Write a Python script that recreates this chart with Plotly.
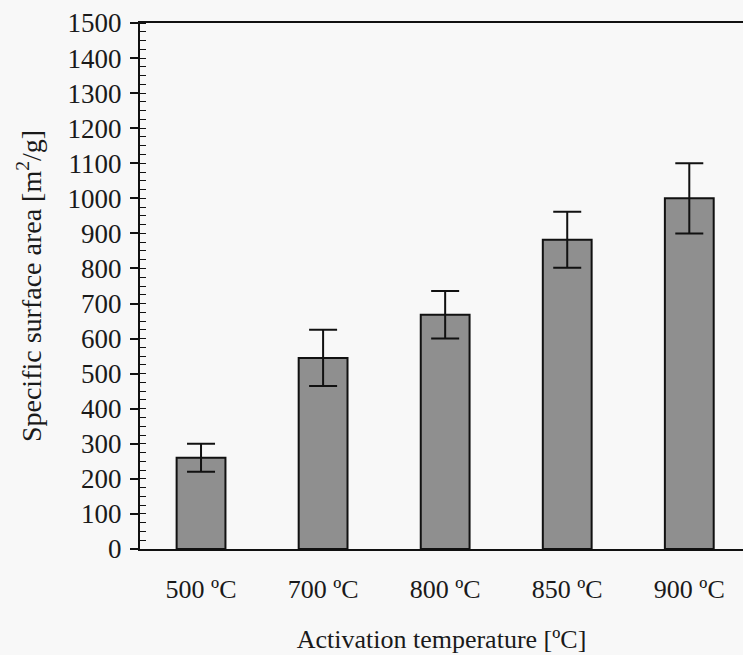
import plotly.graph_objects as go

categories = ["500 ºC", "700 ºC", "800 ºC", "850 ºC", "900 ºC"]
surface_area = [260, 545, 668, 882, 1000]
error = [40, 80, 68, 80, 100]
y_ticks = list(range(0, 1501, 100))

FONT = "Liberation Serif"

fig = go.Figure()
fig.add_trace(go.Bar(
    x=categories, y=surface_area, width=0.4,
    marker=dict(color="#8f8f8f", line=dict(color="#111111", width=2)),
    error_y=dict(type="data", array=error, visible=True, color="#111111", thickness=2, width=14),
))

fig.update_layout(
    width=743, height=655,
    margin=dict(l=140, r=0, t=23, b=106),
    paper_bgcolor="#f8f8f8", plot_bgcolor="#f8f8f8",
    showlegend=False,
    font=dict(family=FONT, size=26, color="#1a1a1a"),
    bargap=0.6,
)
fig.update_xaxes(
    type="category", range=[-0.5, 4.44],
    showline=True, linecolor="#111111", linewidth=2, mirror=True,
    ticks="", ticklabelstandoff=16,
    title=dict(text="Activation temperature [ºC]", standoff=27, font=dict(size=26)),
    showgrid=False, zeroline=False,
)
fig.update_yaxes(
    range=[0, 1500], tickvals=y_ticks, ticktext=[str(v) for v in y_ticks],
    tickfont=dict(size=27),
    showline=True, linecolor="#111111", linewidth=2, mirror=False,
    ticks="outside", ticklen=8, tickwidth=1.5, tickcolor="#111111",
    minor=dict(dtick=25, ticks="inside", ticklen=6, tickwidth=1.2, tickcolor="#111111"),
    ticklabelstandoff=3,
    title=dict(text="Specific surface area [m<sup>2</sup>/g]", standoff=18, font=dict(size=28)),
    showgrid=False, zeroline=False,
)

fig.write_html("out.html")
